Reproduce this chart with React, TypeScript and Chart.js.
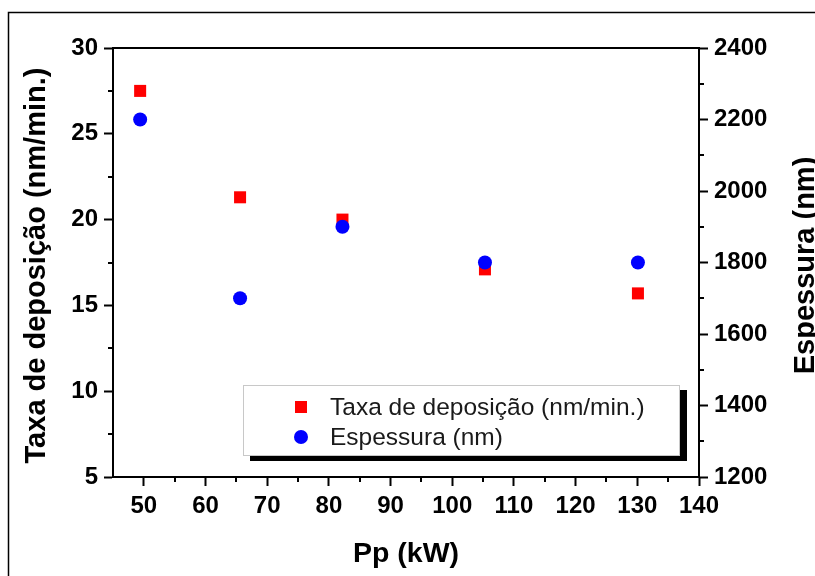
import React, { useEffect, useRef } from "react";
import { Chart, registerables } from "chart.js";

Chart.register(...registerables);

// ---- data ----
const powerKW = [49.4, 65.6, 82.2, 105.3, 130.1];
const taxaDeposicao = [27.5, 21.3, 20.0, 17.1, 15.7];
const espessura = [2200, 1700, 1900, 1800, 1800];

const xTicks = [50, 60, 70, 80, 90, 100, 110, 120, 130, 140];
const xMinorTicks = [55, 65, 75, 85, 95, 105, 115, 125, 135];
const yLeftTicks = [5, 10, 15, 20, 25, 30];
const yLeftMinorTicks = [7.5, 12.5, 17.5, 22.5, 27.5];
const yRightTicks = [1200, 1400, 1600, 1800, 2000, 2200, 2400];
const yRightMinorTicks = [1300, 1500, 1700, 1900, 2100, 2300];

const xTitle = "Pp (kW)";
const yLeftTitle = "Taxa de deposição (nm/min.)";
const yRightTitle = "Espessura (nm)";
const seriesTaxa = "Taxa de deposição (nm/min.)";
const seriesEsp = "Espessura (nm)";

const FONT = "'Liberation Sans', Arial, Helvetica, sans-serif";

const decorPlugin = {
  id: "decor",
  beforeDraw(chart: any) {
    const ctx = chart.ctx;
    ctx.save();
    ctx.fillStyle = "#fff";
    ctx.fillRect(0, 0, chart.width, chart.height);
    // outer frame (left and top visible)
    ctx.strokeStyle = "#000";
    ctx.lineWidth = 1.5;
    ctx.beginPath();
    ctx.moveTo(8.5, chart.height + 5);
    ctx.lineTo(8.5, 12.5);
    ctx.lineTo(chart.width + 5, 12.5);
    ctx.stroke();
    ctx.restore();
  },
  afterDraw(chart: any) {
    const ctx = chart.ctx;
    const a = chart.chartArea;
    const xs = chart.scales.x;
    const yl = chart.scales.y;
    const yr = chart.scales.y1;
    ctx.save();
    ctx.strokeStyle = "#000";
    ctx.lineWidth = 2;
    // top border
    ctx.beginPath();
    ctx.moveTo(a.left - 1, a.top);
    ctx.lineTo(a.right + 1, a.top);
    ctx.stroke();
    // minor ticks
    const minorLen = 5;
    ctx.beginPath();
    xMinorTicks.forEach((v) => {
      const p = Math.round(xs.getPixelForValue(v));
      ctx.moveTo(p, a.bottom);
      ctx.lineTo(p, a.bottom + minorLen);
    });
    yLeftMinorTicks.forEach((v) => {
      const p = Math.round(yl.getPixelForValue(v));
      ctx.moveTo(a.left, p);
      ctx.lineTo(a.left - minorLen, p);
    });
    yRightMinorTicks.forEach((v) => {
      const p = Math.round(yr.getPixelForValue(v));
      ctx.moveTo(a.right, p);
      ctx.lineTo(a.right + minorLen, p);
    });
    ctx.stroke();

    // axis titles
    ctx.fillStyle = "#000";
    ctx.font = `bold 28.5px ${FONT}`;
    ctx.textAlign = "center";
    ctx.textBaseline = "alphabetic";
    ctx.fillText(xTitle, (a.left + a.right) / 2, 562);

    const midY = (a.top + a.bottom) / 2 + 3;
    ctx.font = `bold 29px ${FONT}`;
    ctx.save();
    ctx.translate(45, midY);
    ctx.rotate(-Math.PI / 2);
    ctx.fillText(yLeftTitle, 0, 0);
    ctx.restore();

    ctx.font = `bold 29px ${FONT}`;
    ctx.save();
    ctx.translate(814, midY);
    ctx.rotate(-Math.PI / 2);
    ctx.fillText(yRightTitle, 0, 0);
    ctx.restore();

    // legend with shadow
    const lx = 243, ly = 385, lw = 437, lh = 71, sh = 5;
    ctx.fillStyle = "#000";
    ctx.fillRect(lx + 7, ly + sh, lw - 2, lh);
    ctx.fillRect(lx + sh + 2, ly + sh, lw, lh);
    ctx.fillStyle = "#fff";
    ctx.fillRect(lx, ly, lw, lh);
    ctx.strokeStyle = "#c8c8c8";
    ctx.lineWidth = 1;
    ctx.strokeRect(lx + 0.5, ly + 0.5, lw - 1, lh - 1);

    const items = [
      { label: seriesTaxa, color: "#ff0000", shape: "rect" },
      { label: seriesEsp, color: "#0000ff", shape: "circle" },
    ];
    ctx.font = `24.5px ${FONT}`;
    ctx.textAlign = "left";
    ctx.textBaseline = "middle";
    items.forEach((it, i) => {
      const cy = 407 + i * 30;
      ctx.fillStyle = it.color;
      if (it.shape === "rect") {
        ctx.fillRect(295, cy - 6, 12, 12);
      } else {
        ctx.beginPath();
        ctx.arc(301, cy, 7, 0, Math.PI * 2);
        ctx.fill();
      }
      ctx.fillStyle = "#1a1a1a";
      ctx.fillText(it.label, 330, cy + 1);
    });
    ctx.restore();
  },
};

export default function App() {
  const ref = useRef<HTMLCanvasElement | null>(null);

  useEffect(() => {
    if (!ref.current) return;
    const tickFont = { family: FONT, size: 24, weight: "bold" as const };
    const grid = {
      drawOnChartArea: false,
      drawTicks: true,
      tickLength: 9,
      tickWidth: 2,
      tickColor: "#000",
    };
    const fmt = (v: any) => String(v);
    const chart = new Chart(ref.current, {
      type: "scatter",
      data: {
        datasets: [
          {
            label: seriesTaxa,
            data: powerKW.map((x, i) => ({ x, y: taxaDeposicao[i] })),
            yAxisID: "y",
            pointStyle: "rect",
            pointRadius: 8.5,
            pointBackgroundColor: "#ff0000",
            pointBorderColor: "#ff0000",
            pointBorderWidth: 0,
            order: 2,
          },
          {
            label: seriesEsp,
            data: powerKW.map((x, i) => ({ x, y: espessura[i] })),
            yAxisID: "y1",
            pointStyle: "circle",
            pointRadius: 7,
            pointBackgroundColor: "#0000ff",
            pointBorderColor: "#0000ff",
            pointBorderWidth: 0,
            order: 1,
          },
        ],
      },
      options: {
        responsive: false,
        animation: false,
        devicePixelRatio: 1,
        layout: { padding: { top: 48, left: 0, right: 0, bottom: 0 } },
        plugins: {
          legend: { display: false },
          tooltip: { enabled: false },
          title: { display: false },
        },
        scales: {
          x: {
            type: "linear",
            position: "bottom",
            min: 45,
            max: 140,
            afterBuildTicks: (s: any) => {
              s.ticks = xTicks.map((v) => ({ value: v }));
            },
            afterFit: (s: any) => {
              s.height = 99;
            },
            ticks: { font: tickFont, color: "#000", padding: 6, maxRotation: 0, autoSkip: false, callback: fmt },
            grid,
            border: { display: true, color: "#000", width: 2 },
          },
          y: {
            type: "linear",
            position: "left",
            min: 5,
            max: 30,
            afterBuildTicks: (s: any) => {
              s.ticks = yLeftTicks.map((v) => ({ value: v }));
            },
            afterFit: (s: any) => {
              s.width = 113;
            },
            ticks: { font: tickFont, color: "#000", padding: 6, autoSkip: false, callback: fmt },
            grid,
            border: { display: true, color: "#000", width: 2 },
          },
          y1: {
            type: "linear",
            position: "right",
            min: 1200,
            max: 2400,
            afterBuildTicks: (s: any) => {
              s.ticks = yRightTicks.map((v) => ({ value: v }));
            },
            afterFit: (s: any) => {
              s.width = 116;
            },
            ticks: { font: tickFont, color: "#000", padding: 6, autoSkip: false, callback: fmt },
            grid,
            border: { display: true, color: "#000", width: 2 },
          },
        },
      },
      plugins: [decorPlugin],
    });
    return () => chart.destroy();
  }, []);

  return (
    <div style={{ position: "absolute", left: 0, top: 0, width: 815, height: 576, background: "#fff" }}>
      <canvas ref={ref} width={815} height={576} style={{ display: "block", width: 815, height: 576 }} />
    </div>
  );
}
